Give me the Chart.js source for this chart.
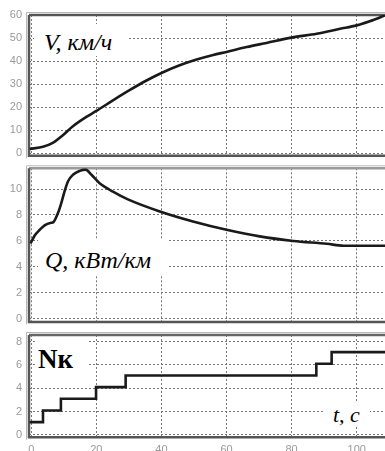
<!DOCTYPE html>
<html><head><meta charset="utf-8">
<script src="https://cdn.jsdelivr.net/npm/chart.js@4"></script>
<style>
html,body{margin:0;padding:0;background:#fff;overflow:hidden;width:385px;height:451px;}
#wrap{position:relative;width:385px;height:451px;overflow:hidden;}
canvas{position:absolute;left:0;top:0;}
.lbl{position:absolute;background:#fff;color:#000;font-family:"Liberation Serif","Times New Roman",serif;line-height:1;white-space:nowrap;}
</style></head><body>
<div id="wrap">
<canvas id="c1" width="385" height="470"></canvas>
<canvas id="c2" width="385" height="470"></canvas>
<canvas id="c3" width="385" height="470"></canvas>
<div class="lbl" style="left:34px;top:24px;width:94px;height:32px;font-style:italic;font-size:24px;padding:6px 0 0 10px;box-sizing:border-box;">V, км/ч</div>
<div class="lbl" style="left:38px;top:240px;width:130px;height:36px;font-style:italic;font-size:24px;padding:8px 0 0 7px;box-sizing:border-box;">Q, кВт/км</div>
<div class="lbl" style="left:35px;top:339px;width:52px;height:36px;font-weight:bold;font-size:27px;padding:7px 0 0 3px;box-sizing:border-box;">Nк</div>
<div class="lbl" style="left:325px;top:401px;width:45px;height:26px;font-style:italic;font-size:22px;padding:3px 0 0 8px;box-sizing:border-box;">t, с</div>
</div>
<script>
// ---- data ----
const X_TICKS = [0, 20, 40, 60, 80, 100];

const V_T   = [-0.5, 3.6, 6.6, 9.7, 12.8, 16.9, 20, 25.1, 30.2, 35.4, 40.5, 45.6, 50.8, 55.9, 60, 66.2, 72.3, 80, 87.7, 94.9, 100, 104, 108.7];
const V_VAL = [1.9, 2.9, 4.6, 7.9, 11.8, 15.8, 18.4, 23.0, 27.4, 31.6, 35.2, 38.2, 40.7, 42.7, 44, 46.1, 47.9, 50.2, 51.9, 54.0, 55.5, 57.3, 59.8];
const V_TICKS = [0, 10, 20, 30, 40, 50, 60];

const Q_T   = [-0.2, 1, 2.6, 4.1, 6.1, 6.8, 8.2, 9.2, 10.2, 11.3, 12.8, 14.9, 16.7, 18.5, 21, 25.1, 29.7, 39.5, 49.7, 60, 70.2, 80.5, 90.8, 95.9, 108.7];
const Q_VAL = [5.8, 6.4, 6.86, 7.2, 7.4, 7.45, 8.15, 8.9, 9.8, 10.6, 11.1, 11.4, 11.5, 11.1, 10.45, 9.8, 9.2, 8.27, 7.5, 6.86, 6.35, 6.0, 5.78, 5.63, 5.63];
const Q_TICKS = [0, 2, 4, 6, 8, 10];

const N_T   = [-0.5, 3.6, 9.1, 19.9, 29, 87.6, 92.3, 108.7];
const N_VAL = [1.1, 2.1, 3.1, 4.1, 5.1, 6.1, 7.1, 7.1];
const N_TICKS = [0, 2, 4, 6, 8];

const pts = (t, v) => t.map((x, i) => ({x, y: v[i]}));

const frame = {
  id: 'frame',
  beforeDatasetsDraw(chart, args, opts) {
    const {ctx, chartArea: a} = chart;
    ctx.save();
    ctx.strokeStyle = '#b8b8b8';
    ctx.lineWidth = 1;
    ctx.beginPath();
    ctx.moveTo(a.left - 2.5, a.bottom + 2.5); ctx.lineTo(a.left - 2.5, a.top - 2.5); ctx.lineTo(a.right + 5, a.top - 2.5);
    ctx.stroke();
    ctx.strokeStyle = opts.top || '#555';
    ctx.lineWidth = 2.5;
    ctx.beginPath();
    ctx.moveTo(a.left, a.top); ctx.lineTo(a.right + 5, a.top);
    ctx.stroke();
    ctx.strokeStyle = '#555';
    ctx.beginPath();
    ctx.moveTo(a.left, a.top); ctx.lineTo(a.left, a.bottom); ctx.lineTo(a.right + 5, a.bottom);
    ctx.stroke();
    ctx.restore();
  }
};

function make(id, t, v, yTicks, ymin, ymax, padTop, padBottom, showX, topColor, stepped) {
  return new Chart(document.getElementById(id), {
    type: 'line',
    data: { datasets: [{ data: pts(t, v), borderColor: '#1a1a1a', borderWidth: 2.6, pointRadius: 0, tension: stepped ? 0 : 0.35, stepped: stepped ? 'before' : false, cubicInterpolationMode: 'monotone' }] },
    options: {
      responsive: false, animation: false, devicePixelRatio: 1,
      layout: { padding: { top: padTop, bottom: padBottom, left: 0, right: 0 } },
      plugins: { legend: { display: false }, tooltip: { enabled: false }, frame: { top: topColor } },
      scales: {
        x: {
          type: 'linear', min: -0.7, max: 108.7,
          afterBuildTicks: s => { s.ticks = X_TICKS.map(v => ({value: v})); },
          afterFit: s => { s.height = showX ? 20 : 0; },
          border: { display: false, dash: [2, 2] },
          grid: { color: '#777', lineWidth: 1, drawTicks: false },
          ticks: { display: showX, color: '#9a9a9a', padding: 6, font: { family: 'Liberation Sans', size: 11 } }
        },
        y: {
          type: 'linear', min: ymin, max: ymax,
          afterBuildTicks: s => { s.ticks = yTicks.map(v => ({value: v})); },
          afterFit: s => { s.width = 29; },
          border: { display: false, dash: [2, 2] },
          grid: { color: '#777', lineWidth: 1, drawTicks: false },
          ticks: { color: '#9a9a9a', padding: 7, font: { family: 'Liberation Sans', size: 11 } }
        }
      }
    },
    plugins: [frame]
  });
}

make('c1', V_T, V_VAL, V_TICKS, -1, 60, 15, 470 - 155.7, false, '#555', false);
make('c2', Q_T, Q_VAL, Q_TICKS, -0.25, 11.6, 168.3, 470 - 322, false, '#9a9a9a', false);
make('c3', N_T, N_VAL, N_TICKS, -0.2, 8.57, 335, 470 - 437.3 - 20, true, '#666', true);
</script>
</body></html>
